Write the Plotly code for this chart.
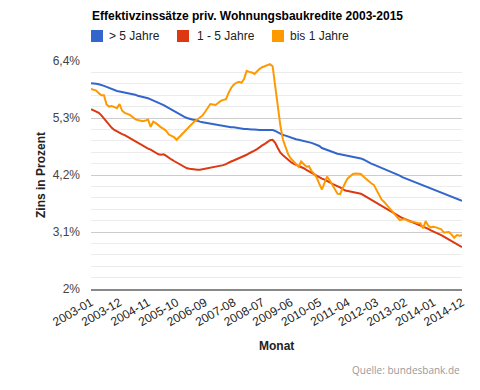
import plotly.graph_objects as go

# ---------------- data ----------------
months = [f"{y}-{m:02d}" for y in range(2003, 2015) for m in range(1, 13)]
tick_labels = ["2003-01", "2003-12", "2004-11", "2005-10", "2006-09", "2007-08", "2008-07",
               "2009-06", "2010-05", "2011-04", "2012-03", "2013-02", "2014-01", "2014-12"]
y_ticks = [2.0, 3.1, 4.2, 5.3, 6.4]
y_tick_labels = ["2%", "3,1%", "4,2%", "5,3%", "6,4%"]
series_names = ["> 5 Jahre", "1 - 5 Jahre", "bis 1 Jahre"]
series_colors = ["#3366cc", "#dc3912", "#ff9900"]

over_5 = [
    5.97, 5.97, 5.96, 5.95, 5.94, 5.92, 5.90, 5.88, 5.85, 5.84, 5.82, 5.81,
    5.80, 5.79, 5.78, 5.78, 5.76, 5.75, 5.73, 5.72, 5.71, 5.69, 5.68, 5.66,
    5.64, 5.62, 5.60, 5.58, 5.55, 5.52, 5.49, 5.46, 5.43, 5.40, 5.37, 5.34,
    5.32, 5.30, 5.28, 5.27, 5.26, 5.24, 5.23, 5.22, 5.21, 5.20, 5.19, 5.18,
    5.17, 5.16, 5.15, 5.14, 5.14, 5.13, 5.12, 5.12, 5.11, 5.10, 5.10, 5.09,
    5.09, 5.08, 5.08, 5.08, 5.07, 5.07, 5.07, 5.07, 5.07, 5.08, 5.07, 5.05,
    5.02, 4.99, 4.97, 4.96, 4.94, 4.92, 4.91, 4.89, 4.88, 4.87, 4.86, 4.85,
    4.84, 4.82, 4.80, 4.78, 4.76, 4.72, 4.70, 4.68, 4.66, 4.64, 4.62, 4.61,
    4.60, 4.59, 4.58, 4.57, 4.56, 4.55, 4.54, 4.54, 4.52, 4.50, 4.47, 4.44,
    4.42, 4.40, 4.38, 4.36, 4.34, 4.32, 4.30, 4.28, 4.26, 4.24, 4.22, 4.19,
    4.16, 4.14, 4.12, 4.10, 4.08, 4.06, 4.04, 4.02, 4.00, 3.98, 3.96, 3.94,
    3.92, 3.90, 3.88, 3.86, 3.84, 3.82, 3.80, 3.78, 3.76, 3.74, 3.72, 3.70,
]
one_to_5 = [
    5.47, 5.45, 5.42, 5.40, 5.35, 5.29, 5.22, 5.16, 5.11, 5.07, 5.04, 5.01,
    4.99, 4.97, 4.94, 4.91, 4.88, 4.85, 4.82, 4.80, 4.77, 4.74, 4.71, 4.69,
    4.66, 4.63, 4.60, 4.59, 4.60, 4.57, 4.53, 4.50, 4.47, 4.44, 4.41, 4.38,
    4.35, 4.33, 4.32, 4.31, 4.30, 4.30, 4.30, 4.31, 4.31, 4.32, 4.33, 4.34,
    4.35, 4.36, 4.37, 4.39, 4.41, 4.44, 4.46, 4.48, 4.50, 4.52, 4.54, 4.56,
    4.59, 4.62, 4.64, 4.67, 4.70, 4.74, 4.77, 4.80, 4.84, 4.87, 4.88, 4.82,
    4.72, 4.63, 4.58, 4.53, 4.49, 4.45, 4.42, 4.40, 4.37, 4.35, 4.33, 4.30,
    4.27, 4.24, 4.21, 4.18, 4.15, 4.13, 4.11, 4.09, 4.06, 4.03, 4.01, 3.99,
    3.96, 3.93, 3.90, 3.89, 3.88, 3.88, 3.87, 3.86, 3.84, 3.81, 3.78, 3.75,
    3.72, 3.69, 3.66, 3.63, 3.60, 3.57, 3.54, 3.51, 3.48, 3.45, 3.42, 3.39,
    3.37, 3.35, 3.33, 3.31, 3.29, 3.27, 3.24, 3.22, 3.20, 3.18, 3.16, 3.13,
    3.11, 3.09, 3.07, 3.04, 3.01, 2.98, 2.96, 2.93, 2.90, 2.87, 2.84, 2.81,
]
up_to_1 = [
    5.86, 5.85, 5.83, 5.78, 5.74, 5.74, 5.56, 5.52, 5.53, 5.51, 5.49, 5.57,
    5.44, 5.40, 5.38, 5.36, 5.32, 5.28, 5.26, 5.25, 5.24, 5.25, 5.27, 5.13,
    5.23, 5.20, 5.15, 5.12, 5.09, 5.05, 4.98, 4.95, 4.93, 4.88, 4.93, 5.00,
    5.05, 5.08, 5.14, 5.19, 5.24, 5.27, 5.31, 5.35, 5.42, 5.49, 5.57, 5.56,
    5.55, 5.59, 5.63, 5.65, 5.66, 5.78, 5.88, 5.94, 5.98, 6.00, 5.98, 6.05,
    6.21, 6.19, 6.18, 6.15, 6.21, 6.25, 6.28, 6.30, 6.32, 6.34, 6.30, 5.90,
    5.55, 5.15, 4.88, 4.72, 4.60, 4.52, 4.46, 4.40, 4.36, 4.46, 4.40, 4.36,
    4.37, 4.28, 4.22, 4.15, 4.03, 3.92, 4.05, 4.17, 4.10, 4.02, 3.94, 3.84,
    3.83, 3.96, 4.05, 4.14, 4.18, 4.22, 4.23, 4.22, 4.22, 4.17, 4.12, 4.08,
    4.04, 4.01, 3.92, 3.80, 3.73, 3.68, 3.62, 3.55, 3.49, 3.43, 3.38, 3.33,
    3.34, 3.35, 3.32, 3.30, 3.30, 3.28, 3.27, 3.27, 3.17, 3.31, 3.22, 3.19,
    3.20, 3.19, 3.17, 3.15, 3.09, 3.09, 3.10, 3.05, 2.99, 3.04, 3.03, 3.04,
]
series_values = [over_5, one_to_5, up_to_1]

# ---------------- layout geometry (window pixels) ----------------
OFF = 8                      # page body margin of the HTML output
W, H = 480 - OFF, 390 - OFF  # figure size so that it fills the window
PLOT_L, PLOT_R, PLOT_T, PLOT_B = 91, 462, 61, 289   # plot area in window pixels
L = PLOT_L - OFF
T = PLOT_T - OFF
R = W - (PLOT_R - OFF)
B = H - (PLOT_B - OFF)
PW, PH = PLOT_R - PLOT_L, PLOT_B - PLOT_T


def px_x(x):
    return (x - PLOT_L) / PW


def px_y(y):
    return (PLOT_B - y) / PH


FONT = "Liberation Sans, Arial, sans-serif"

fig = go.Figure()
for name, vals, col in zip(series_names, series_values, series_colors):
    fig.add_trace(go.Scatter(x=months, y=vals, mode="lines", name=name,
                             line=dict(color=col, width=2), showlegend=False))

# legend squares + labels
legend_x = [(91, 108), (177, 196), (272, 289)]
shapes = []
annotations = []
for (sx, tx), name, col in zip(legend_x, series_names, series_colors):
    shapes.append(dict(type="rect", xref="paper", yref="paper",
                       x0=px_x(sx), x1=px_x(sx + 12), y0=px_y(42), y1=px_y(30),
                       fillcolor=col, line=dict(width=0)))
    annotations.append(dict(text=name, xref="paper", yref="paper", x=px_x(tx - 1), y=px_y(36),
                            xanchor="left", yanchor="middle", showarrow=False,
                            font=dict(family=FONT, size=12, color="#222")))

annotations.append(dict(text="<b>Effektivzinssätze priv. Wohnungsbaukredite 2003-2015</b>",
                        xref="paper", yref="paper", x=px_x(90), y=px_y(16),
                        xanchor="left", yanchor="middle", showarrow=False,
                        font=dict(family=FONT, size=12, color="#000")))
annotations.append(dict(text="<b>Zins in Prozent</b>", xref="paper", yref="paper",
                        x=px_x(41), y=px_y(175), textangle=-90,
                        xanchor="center", yanchor="middle", showarrow=False,
                        font=dict(family=FONT, size=12, color="#222")))
annotations.append(dict(text="<b>Monat</b>", xref="paper", yref="paper",
                        x=0.5, y=px_y(346), xanchor="center", yanchor="middle",
                        showarrow=False, font=dict(family=FONT, size=12, color="#222")))
annotations.append(dict(text="Quelle: bundesbank.de", xref="paper", yref="paper",
                        x=px_x(462), y=px_y(370), xanchor="right", yanchor="middle",
                        showarrow=False, font=dict(family="Open Sans, sans-serif", size=10, color="#999")))

fig.update_layout(
    width=W, height=H,
    margin=dict(l=L, r=R, t=T, b=B),
    paper_bgcolor="white", plot_bgcolor="white",
    shapes=shapes, annotations=annotations,
    font=dict(family=FONT, size=12, color="#444"),
    showlegend=False,
)
fig.update_xaxes(
    type="category", range=[0, len(months) - 1],
    tickmode="array", tickvals=tick_labels, ticktext=tick_labels,
    tickangle=-30, showgrid=False, ticks="",
    showline=True, linecolor="#888", linewidth=2,
    tickfont=dict(family=FONT, size=12, color="#222"),
)
fig.update_yaxes(
    range=[2.0, 6.4], tickmode="array", tickvals=y_ticks, ticktext=y_tick_labels,
    showgrid=True, gridcolor="#cccccc", gridwidth=1, zeroline=False,
    ticks="", ticklabelstandoff=10,
    tickfont=dict(family=FONT, size=12, color="#444"),
    minor=dict(tickmode="linear", tick0=2.0, dtick=0.22, showgrid=True,
               gridcolor="#ececec", gridwidth=1),
)

fig.write_html("out.html")
